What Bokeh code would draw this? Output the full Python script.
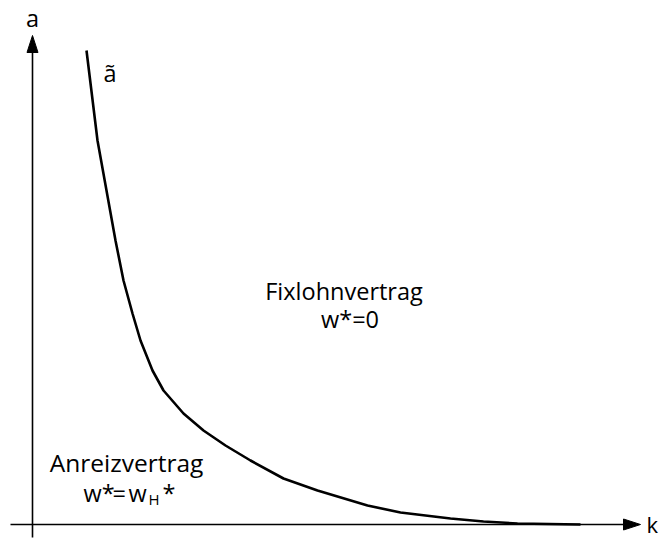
from bokeh.plotting import figure
from bokeh.models import Range1d
from bokeh.core.properties import value
from bokeh.embed import file_html
from bokeh.resources import INLINE

# Curve ã(k) (k to the right, a upward, origin at the axes' crossing)
k_vals = [54, 65, 83, 91, 100, 108, 120, 131, 151, 171, 193, 218, 251, 285, 335, 368, 418, 451, 485, 548]
a_vals = [474, 384, 284, 244, 211, 184, 154, 134, 111, 94, 79, 64, 46, 34, 19, 12, 6, 3, 1, 0]

# Axis extents
k_axis_start, k_axis_end = -22, 608
a_axis_start, a_axis_end = -13, 489
head_len, head_half = 17, 5.5

FONT = value("Open Sans")
FS = "23.5px"

p = figure(width=661, height=540, x_range=Range1d(-32, 629), y_range=Range1d(-16, 524),
           output_backend="svg", toolbar_location=None, min_border=0,
           x_axis_location=None, y_axis_location=None)
p.grid.visible = False
p.outline_line_color = None
p.background_fill_color = "white"
p.border_fill_color = "white"

# axes
p.segment(x0=[k_axis_start], y0=[0], x1=[k_axis_end - head_len], y1=[0], line_color="black", line_width=1.6)
p.segment(x0=[0], y0=[a_axis_start], x1=[0], y1=[a_axis_end - head_len], line_color="black", line_width=1.6)
p.patch(x=[k_axis_end - head_len, k_axis_end - head_len, k_axis_end],
        y=[-head_half, head_half, 0], fill_color="black", line_color="black")
p.patch(x=[-head_half, head_half, 0],
        y=[a_axis_end - head_len, a_axis_end - head_len, a_axis_end], fill_color="black", line_color="black")

# curve
p.line(k_vals, a_vals, line_color="black", line_width=2.6)

common = dict(text_font=FONT, text_color="black")

# labels
p.text(x=[0], y=[507], text=["a"], text_font_size=FS, text_align="center", text_baseline="alphabetic", **common)
p.text(x=[614], y=[1], text=["k"], text_font_size="22px", text_align="left", text_baseline="middle", **common)
p.text(x=[71], y=[452], text=["ã"], text_font_size=FS, text_align="left", text_baseline="alphabetic", **common)
p.text(x=[311.5, 317.5], y=[234, 206], text=["Fixlohnvertrag", "w*=0"], text_font_size=FS,
       text_align="center", text_baseline="alphabetic", **common)
p.text(x=[94], y=[62], text=["Anreizvertrag"], text_font_size="24.5px", text_align="center",
       text_baseline="alphabetic", **common)
# w* = w_H*
p.text(x=[51, 80, 96, 130], y=[32, 32, 32, 32], text=["w*", "=", "w", "*"], text_font_size=FS,
       text_align="left", text_baseline="alphabetic", **common)
p.text(x=[116], y=[26], text=["H"], text_font_size="15px", text_align="left", text_baseline="alphabetic", **common)

open("out.html", "w").write(file_html(p, INLINE))
